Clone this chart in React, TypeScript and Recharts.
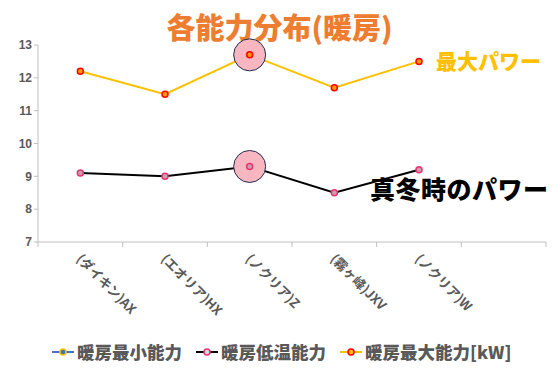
import { LineChart, Line, XAxis, YAxis, ReferenceDot } from 'recharts';

// categories (last slot is an empty band, as in the source sheet)
const models = ['(ダイキン)AX', '(エオリア)HX', '(ノクリア)Z', '(霧ヶ峰)JXV', '(ノクリア)W', ''];
const minPower: (number | null)[] = [null, null, null, null, null, null];
const lowTempPower: (number | null)[] = [9.1, 9.0, 9.3, 8.5, 9.2, null];
const maxPower: (number | null)[] = [12.2, 11.5, 12.7, 11.7, 12.5, null];
const yTicks = [7, 8, 9, 10, 11, 12, 13];

const data = models.map((name, i) => ({
  name,
  min: minPower[i],
  low: lowTempPower[i],
  max: maxPower[i],
}));

const JP = '"Noto Sans CJK JP", "Noto Sans", sans-serif';
const GRAY = '#595959';
const AXIS = '#BFBFBF';

const lowDot = { fill: '#C9A0B0', stroke: '#E8336E', strokeWidth: 1.5 };
const maxDot = { fill: '#FF9900', stroke: '#FF0000', strokeWidth: 1.5 };

// label rotated 45deg, with tick marks on the band edges (Excel style)
function CategoryTick(props: any) {
  const { x, y, payload, width, visibleTicksCount, index } = props;
  const half = width / visibleTicksCount / 2;
  const axisY = y - 8;
  return (
    <g>
      <line x1={x - half} y1={axisY} x2={x - half} y2={axisY + 5} stroke={AXIS} />
      {index === visibleTicksCount - 1 && (
        <line x1={x + half} y1={axisY} x2={x + half} y2={axisY + 5} stroke={AXIS} />
      )}
      <g transform={`translate(${x - 2},${y + 7}) rotate(45)`}>
        <text x={0} y={0} dy={4} textAnchor="start" fill={GRAY} fontSize={13} fontWeight={700} fontFamily={JP}>
          {payload.value}
        </text>
      </g>
    </g>
  );
}

const legendItems = [
  { label: '暖房最小能力', line: '#4472C4', fill: '#4472C4', stroke: '#FFC000' },
  { label: '暖房低温能力', line: '#000000', fill: '#D9D9D9', stroke: '#E8336E' },
  { label: '暖房最大能力[kW]', line: '#FFC000', fill: '#FFC000', stroke: '#FF0000' },
];

export default function App() {
  return (
    <div style={{ position: 'relative', width: 559, height: 370, background: '#fff' }}>
      <style>{`body{margin:0}`}</style>
      <div
        style={{
          position: 'absolute', top: 6, left: 0, width: 559, textAlign: 'center',
          color: '#ED7D31', fontSize: 29, fontWeight: 900, fontFamily: JP, lineHeight: '40px',
        }}
      >
        各能力分布(暖房)
      </div>
      <LineChart width={559} height={370} data={data} margin={{ top: 45, right: 13, bottom: 0, left: 0 }}>
        <XAxis
          dataKey="name"
          scale="band"
          height={128}
          interval={0}
          tick={<CategoryTick />}
          axisLine={{ stroke: AXIS }}
          tickLine={false}
          tickSize={6}
          tickMargin={2}
        />
        <YAxis
          domain={[7, 13]}
          ticks={yTicks}
          width={38}
          interval={0}
          tick={{ fill: GRAY, fontSize: 12, fontWeight: 700, fontFamily: '"Liberation Sans", sans-serif' }}
          axisLine={{ stroke: AXIS }}
          tickLine={{ stroke: AXIS }}
          tickSize={4}
        />
        <Line dataKey="min" stroke="#4472C4" strokeWidth={2} isAnimationActive={false} />
        <Line dataKey="low" stroke="#000000" strokeWidth={2} dot={{ r: 3, ...lowDot }} isAnimationActive={false} />
        <Line dataKey="max" stroke="#FFC000" strokeWidth={2} dot={{ r: 3, ...maxDot }} isAnimationActive={false} />
        <ReferenceDot x={models[2]} y={maxPower[2] as number} r={16} fill="#F8B6C0" stroke="#1F2D50" strokeWidth={1} />
        <ReferenceDot x={models[2]} y={lowTempPower[2] as number} r={16} fill="#F8B6C0" stroke="#1F2D50" strokeWidth={1} />
        <ReferenceDot x={models[2]} y={maxPower[2] as number} r={3} {...maxDot} />
        <ReferenceDot x={models[2]} y={lowTempPower[2] as number} r={3} {...lowDot} />
      </LineChart>
      <div style={{ position: 'absolute', left: 436, top: 46, color: '#FFC000', fontSize: 21, fontWeight: 900, fontFamily: JP, lineHeight: '28px' }}>
        最大パワー
      </div>
      <div style={{ position: 'absolute', left: 370, top: 173, color: '#000', fontSize: 25, fontWeight: 900, fontFamily: JP, lineHeight: '30px', letterSpacing: 0.5 }}>
        真冬時のパワー
      </div>
      <div style={{ position: 'absolute', left: 52, top: 340, display: 'flex', gap: 14, fontFamily: JP }}>
        {legendItems.map((it) => (
          <div key={it.label} style={{ display: 'flex', alignItems: 'center' }}>
            <svg width={22} height={24}>
              <line x1={0} y1={12} x2={22} y2={12} stroke={it.line} strokeWidth={2} />
              <circle cx={11} cy={12} r={3} fill={it.fill} stroke={it.stroke} strokeWidth={1.5} />
            </svg>
            <span style={{ marginLeft: 3, color: GRAY, fontSize: 17.5, fontWeight: 900, lineHeight: '24px' }}>{it.label}</span>
          </div>
        ))}
      </div>
    </div>
  );
}
